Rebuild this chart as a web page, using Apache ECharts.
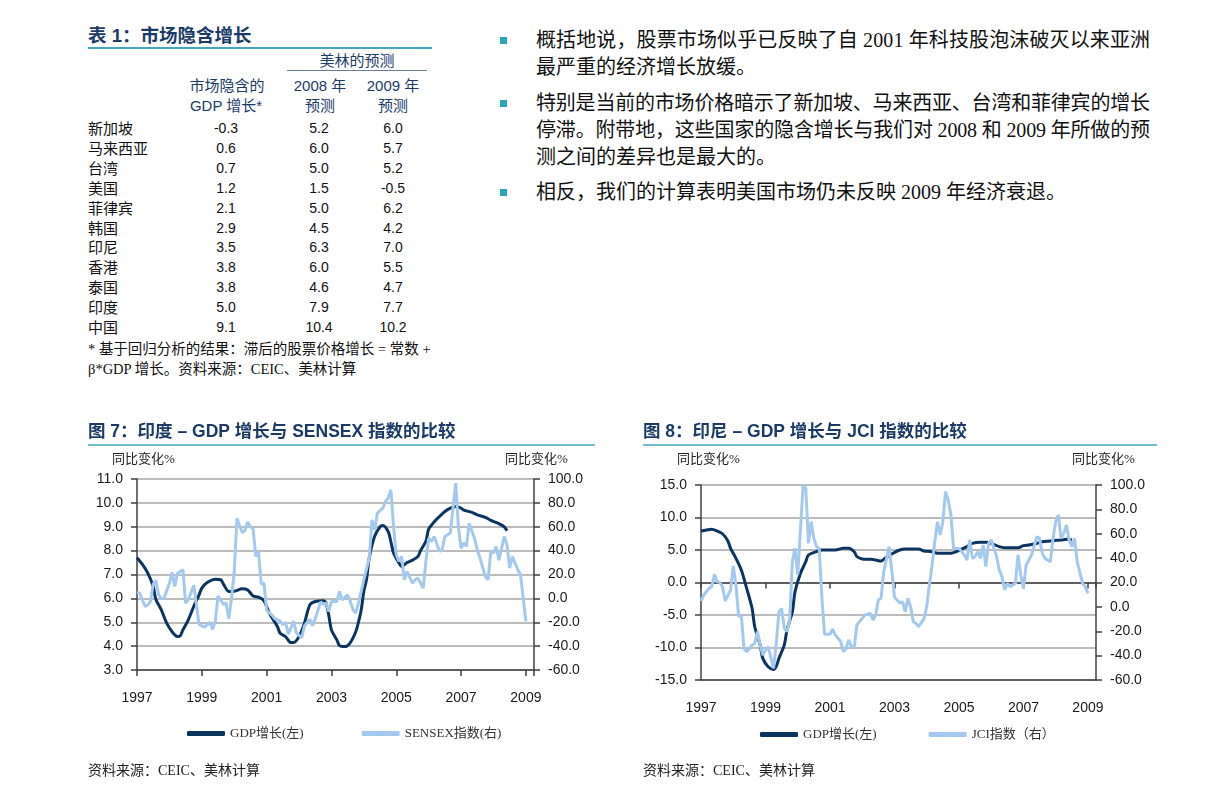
<!DOCTYPE html>
<html><head><meta charset="utf-8">
<script src="https://cdn.jsdelivr.net/npm/echarts@6/dist/echarts.min.js"></script>
<style>
html,body{margin:0;padding:0;background:#fff;}
body{width:1224px;height:799px;position:relative;overflow:hidden;font-family:"Liberation Sans","Noto Sans CJK SC",sans-serif;color:#111;}
.abs{position:absolute;white-space:nowrap;line-height:1.2;}
.bl{position:absolute;left:536px;font-family:"Liberation Serif","Noto Sans CJK SC",serif;font-size:20px;line-height:1.2;white-space:nowrap;color:#111;}
.sq{position:absolute;left:500px;width:7px;height:7px;background:#2ea2b6;}
</style></head><body>
<div id="chart" style="position:absolute;left:0;top:400px;width:1224px;height:399px"></div>
<script>
// ---------- Table 1 data ----------
const countries = ['新加坡','马来西亚','台湾','美国','菲律宾','韩国','印尼','香港','泰国','印度','中国'];
const impliedGrowth = [-0.3,0.6,0.7,1.2,2.1,2.9,3.5,3.8,3.8,5.0,9.1];
const forecast2008 = [5.2,6.0,5.0,1.5,5.0,4.5,6.3,6.0,4.6,7.9,10.4];
const forecast2009 = [6.0,5.7,5.2,-0.5,6.2,4.2,7.0,5.5,4.7,7.7,10.2];

// ---------- Chart data (x = months since Jan 1997) ----------
const yearLabels = ['1997','1999','2001','2003','2005','2007','2009'];

const indiaGdpMonth = [0,2,4,6,7,9,11,13,15,16,17,19,21,23,24,26,29,31,32,34,36,39,41,43,45,47,49,52,53,55,57,58,60,62,64,66,69,70,71,72,74,75,77,79,81,82,83,84,85,86,88,90,91,93,94,95,97,98,100,102,104,105,107,108,110,112,114,116,118,120,121,124,126,129,131,134,136,137];
const indiaGdp = [7.7,7.42,7.06,6.5,5.95,5.52,4.96,4.6,4.4,4.43,4.68,5.1,5.66,6.15,6.43,6.66,6.8,6.78,6.6,6.29,6.3,6.4,6.35,6.1,6.05,5.9,5.38,4.82,4.54,4.4,4.15,4.15,4.4,4.96,5.73,5.87,5.9,5.79,5.3,4.68,4.26,4.02,3.98,4.15,4.6,5.0,5.5,6.3,6.8,7.7,8.6,9.0,9.05,8.8,8.38,7.9,7.48,7.34,7.5,7.6,7.75,8.0,8.4,8.9,9.2,9.43,9.64,9.78,9.85,9.78,9.7,9.6,9.5,9.39,9.27,9.13,8.99,8.83];

const sensexMonth = [0,1,3,4,5,6,7,8,9,10,12,13,14,15,17,18,19,21,22,23,25,27,28,29,30,32,33,34,35,36,37,39,40,41,42,43,44,45,46,47,48,50,51,53,54,55,56,58,59,61,62,64,65,66,68,69,70,71,72,74,75,76,78,79,80,81,82,84,86,87,88,89,91,92,93,94,95,96,97,98,99,100,102,103,104,106,107,108,109,110,112,113,114,116,117,118,119,120,121,122,123,125,126,127,129,130,131,132,133,134,135,136,137,138,139,141,142,143,144];
const sensex = [5,4.5,-6.8,-5.5,-2.6,12,15,3,0,0,12.7,21.7,10,21,24,-4,-1.2,11,-5,-22,-24,-20,-26,-19,2,-5,-4,-17,0,22,67,55,57,64,60,58,35,39,12,13,-10,-14,-17,-19,-22,-20,-30,-19,-29,-33,-23,-17.5,-23,-17,-3,-5,-4,-11,-2.6,-2.6,5.8,-1.2,3,-2.6,-9.6,-12.4,-4,15.6,33.8,65.8,57.3,71.5,75.6,81.2,84,91,60,36.5,31,35,15.6,22.5,12.8,15.6,17,8.5,32,50.5,47.7,51.9,39.4,40.7,51.9,54.7,75.6,96.6,60,42,46.5,43.5,63,50,40.7,33.8,18.3,15.6,39.4,38,43.5,32,42,51.9,44.9,25.4,35.1,24,19.8,0.2,-19.4];

const indoGdpMonth = [0,2,4,6,8,10,11,13,15,17,19,20,22,23,25,27,28,29,31,32,34,35,37,39,40,43,45,48,50,53,55,57,58,60,63,65,67,69,71,74,76,79,81,83,86,88,91,93,95,97,99,101,104,106,108,111,113,116,118,120,122,125,127,130,132,134,136,138];
const indoGdp = [7.92,8.08,8.2,7.92,7.5,6.4,5.26,3.72,1.92,-0.9,-3.97,-6.8,-9.6,-11.67,-12.95,-13.4,-12.9,-11.67,-9.6,-7.3,-4.5,-1.4,1.4,3.21,4.23,4.74,5.0,5.0,5.0,5.26,5.26,4.74,4.0,3.62,3.56,3.46,3.31,3.9,4.4,5.0,5.15,5.15,5.15,4.85,4.74,4.49,4.49,4.49,4.74,5.15,5.51,6.03,6.18,6.18,6.03,5.51,5.36,5.36,5.36,5.67,5.77,6.03,6.28,6.38,6.49,6.54,6.64,6.54];

const jciMonth = [0,1,3,4,5,6,7,8,9,11,12,13,14,15,16,17,19,20,21,22,23,24,25,27,28,29,30,31,32,33,34,35,36,38,39,40,41,42,43,44,45,46,48,49,50,52,53,54,55,56,57,58,59,60,61,63,64,65,66,67,68,70,71,72,74,75,76,77,78,79,80,81,83,84,85,86,87,88,89,90,91,92,93,94,96,97,98,99,100,101,102,103,104,105,106,107,108,110,111,112,113,114,115,117,118,119,120,121,123,125,126,127,128,130,131,132,133,134,135,136,137,138,139,140,142,143,144];
const jci = [4.8,9.7,15.2,16.6,26.7,20.7,20.1,16.6,4.8,13.8,33.8,18,-8,-6.7,-34,-36.8,-31.3,-30,-20.3,-31.3,-39.5,-35.4,-32.7,-50.4,-30,-3.9,-1.2,-17.6,-20.3,-10.8,37.1,48,26.2,100,97.3,52.1,69.9,56.2,49.4,48,7,-22.5,-22.5,-18.2,-23.1,-28.5,-36.8,-34,-27.2,-32.7,-34,-14.9,-12.1,-9.4,-6.7,-5.3,-10.8,-6.7,5.6,7,28.9,49.4,30,8,2.9,4.3,-3.9,7,0.2,-12.1,-13.5,-16.2,-9.4,0.2,17.9,34.4,53.5,69.9,59,69.9,94.5,87.7,75.4,48,48,45.3,42.6,38.5,54.9,39.8,41.2,45.3,39.8,50.8,33,52.1,54.9,41.2,30.3,24.8,13.8,19.3,16.6,19.3,42.6,26.2,15.2,34.4,42.6,57.6,56.2,43.9,39.8,37.1,56.2,69.9,75.4,56.2,60.3,67.2,54.9,49.4,56.2,37.1,19.3,16.6,11.1];

// ---------- Top HTML part ----------
const NAVY = '#1b3a68';
function put(text, x, y, css, align) {
  const d = document.createElement('div');
  d.className = 'abs';
  d.textContent = text;
  d.style.left = x + 'px';
  d.style.top = y + 'px';
  d.style.transform = align === 'center' ? 'translate(-50%,-50%)' : (align === 'right' ? 'translate(-100%,-50%)' : 'translate(0,-50%)');
  Object.assign(d.style, css || {});
  document.body.appendChild(d);
  return d;
}
function hline(x1, x2, y, color, w) {
  const d = document.createElement('div');
  d.style.cssText = `position:absolute;left:${x1}px;top:${y}px;width:${x2 - x1}px;height:${w}px;background:${color};`;
  document.body.appendChild(d);
}
put('表 1：市场隐含增长', 88, 36, {fontSize:'18.5px', fontWeight:'bold', color:NAVY, fontFamily:'"Liberation Sans","Noto Sans CJK SC",sans-serif'});
hline(88, 432, 47, '#45a6bd', 1.5);
const hdrCss = {fontSize:'15px', color:NAVY};
put('美林的预测', 357, 61, hdrCss, 'center');
hline(287, 427, 70, '#6c7f99', 1);
put('市场隐含的', 227, 86, hdrCss, 'center');
put('GDP 增长*', 226, 106, hdrCss, 'center');
put('2008 年', 320, 86, hdrCss, 'center');
put('预测', 320, 106, hdrCss, 'center');
put('2009 年', 393, 86, hdrCss, 'center');
put('预测', 393, 106, hdrCss, 'center');
const rowCss = {fontSize:'15px', color:'#111', fontFamily:'"Noto Sans CJK SC",sans-serif'};
const numCss = {fontSize:'14px', color:'#111', fontFamily:'"Liberation Sans",sans-serif'};
countries.forEach((c, i) => {
  const y = 128.3 + i * 19.85;
  put(c, 88, y, rowCss);
  put(impliedGrowth[i].toFixed(1), 226, y, numCss, 'center');
  put(forecast2008[i].toFixed(1), 319, y, numCss, 'center');
  put(forecast2009[i].toFixed(1), 393, y, numCss, 'center');
});
const noteCss = {fontSize:'14.5px', color:'#111', fontFamily:'"Liberation Serif","Noto Sans CJK SC",serif'};
put('* 基于回归分析的结果：滞后的股票价格增长 = 常数 +', 88, 350, noteCss);
put('β*GDP 增长。资料来源：CEIC、美林计算', 88, 370, noteCss);

// bullets
function bullet(y) {
  const d = document.createElement('div');
  d.className = 'sq';
  d.style.top = (y - 3.5) + 'px';
  document.body.appendChild(d);
}
function bline(text, y, fitWidth) {
  const d = document.createElement('div');
  d.className = 'bl';
  d.textContent = text;
  d.style.top = (y - 12) + 'px';
  document.body.appendChild(d);
  if (fitWidth) {
    const w = d.getBoundingClientRect().width;
    const n = Array.from(text).length;
    d.style.letterSpacing = ((fitWidth - w) / (n - 1)) + 'px';
  }
}
bullet(40);
bline('概括地说，股票市场似乎已反映了自 2001 年科技股泡沫破灭以来亚洲', 40, 614);
bline('最严重的经济增长放缓。', 67, 0);
bullet(103);
bline('特别是当前的市场价格暗示了新加坡、马来西亚、台湾和菲律宾的增长', 103, 614);
bline('停滞。附带地，这些国家的隐含增长与我们对 2008 和 2009 年所做的预', 130, 614);
bline('测之间的差异也是最大的。', 157, 0);
bullet(192);
bline('相反，我们的计算表明美国市场仍未反映 2009 年经济衰退。', 192, 0);

// ---------- Charts ----------
const OY = 400;
const zip = (xs, ys) => xs.map((x, i) => [x, ys[i]]);
const AX = '#404040', GRID = '#a6a6a6', DARK = '#0c3461', LIGHT = '#a5c8ef';
const labelFont = {fontSize:14, color:'#1a1a1a', fontFamily:'Liberation Sans'};
const yearFmt = v => (v % 24 === 0 && v / 24 < yearLabels.length) ? yearLabels[v / 24] : '';

function xBottom(gi, ticks) {
  return {gridIndex:gi, type:'value', min:0, max:147, interval:24, position:'bottom',
    axisLine:{show:true, onZero:false, lineStyle:{color:AX, width:1.5}},
    axisTick:{show:ticks, length:6, lineStyle:{color:AX, width:1.5}},
    axisLabel:Object.assign({formatter:yearFmt, margin:21}, labelFont),
    splitLine:{show:false}};
}
function yAx(gi, pos, min, max, interval, split) {
  return {gridIndex:gi, type:'value', position:pos, min:min, max:max, interval:interval,
    axisLine:{show:true, onZero:false, lineStyle:{color:AX, width:1.5}},
    axisTick:{show:true, length:6, lineStyle:{color:AX, width:1.5}},
    axisLabel:Object.assign({formatter:v => v.toFixed(1), margin:14}, labelFont),
    splitLine:{show:split, lineStyle:{color:GRID, width:1.5}}};
}
const legendText = {fontSize:13, color:'#333', fontFamily:'Liberation Serif, Noto Sans CJK SC'};
function txt(text, x, y, size, extra) {
  return {type:'text', x:x, y:y - OY, silent:true,
    style:Object.assign({text:text, fontSize:size, fill:'#222', fontFamily:'Liberation Serif, Noto Sans CJK SC', align:'left', verticalAlign:'middle'}, extra || {})};
}
const option = {
  animation:false,
  grid:[
    {left:137, top:479 - OY, width:397, height:191},
    {left:701, top:485 - OY, width:395, height:195}
  ],
  xAxis:[
    xBottom(0, true),
    xBottom(1, false),
    {gridIndex:1, type:'value', min:0, max:147, interval:24, position:'top',
     axisLine:{show:true, onZero:true, onZeroAxisIndex:2, lineStyle:{color:AX, width:1.5}},
     axisTick:{show:true, inside:true, length:6, lineStyle:{color:AX, width:1.5}},
     axisLabel:{show:false}, splitLine:{show:false}}
  ],
  yAxis:[
    yAx(0, 'left', 3, 11, 1, true),
    yAx(0, 'right', -60, 100, 20, false),
    yAx(1, 'left', -15, 15, 5, true),
    yAx(1, 'right', -60, 100, 20, false)
  ],
  legend:[
    {data:['GDP增长(左)','SENSEX指数(右)'], left:182, top:730 - OY - 8, itemWidth:38, itemHeight:5, itemGap:58, icon:'roundRect', textStyle:legendText},
    {data:['GDP增长(左)','JCI指数（右）'], left:755, top:731 - OY - 8, itemWidth:38, itemHeight:5, itemGap:52, icon:'roundRect', textStyle:legendText}
  ],
  series:[
    {name:'GDP增长(左)', type:'line', xAxisIndex:0, yAxisIndex:0, data:zip(indiaGdpMonth, indiaGdp), symbol:'none', smooth:0.3, lineStyle:{color:DARK, width:3}, itemStyle:{color:DARK}, z:2},
    {name:'SENSEX指数(右)', type:'line', xAxisIndex:0, yAxisIndex:1, data:zip(sensexMonth, sensex), symbol:'none', lineStyle:{color:LIGHT, width:3}, itemStyle:{color:LIGHT}, z:3},
    {name:'GDP增长(左)', type:'line', xAxisIndex:1, yAxisIndex:2, data:zip(indoGdpMonth, indoGdp), symbol:'none', smooth:0.3, lineStyle:{color:DARK, width:3}, itemStyle:{color:DARK}, z:2},
    {name:'JCI指数（右）', type:'line', xAxisIndex:1, yAxisIndex:3, data:zip(jciMonth, jci), symbol:'none', lineStyle:{color:LIGHT, width:3}, itemStyle:{color:LIGHT}, z:3}
  ],
  graphic:[
    txt('图 7：印度 – GDP 增长与 SENSEX 指数的比较', 88, 432, 17.5, {fill:NAVY, fontWeight:'bold', fontFamily:'Liberation Sans, Noto Sans CJK SC'}),
    {type:'line', silent:true, shape:{x1:88, y1:445 - OY, x2:595, y2:445 - OY}, style:{stroke:'#45a6bd', lineWidth:1.5}},
    txt('图 8：印尼 – GDP 增长与 JCI 指数的比较', 643, 432, 17.5, {fill:NAVY, fontWeight:'bold', fontFamily:'Liberation Sans, Noto Sans CJK SC'}),
    {type:'line', silent:true, shape:{x1:643, y1:445 - OY, x2:1157, y2:445 - OY}, style:{stroke:'#45a6bd', lineWidth:1.5}},
    txt('同比变化%', 112, 460, 13),
    txt('同比变化%', 505, 460, 13),
    txt('同比变化%', 677, 460, 13),
    txt('同比变化%', 1072, 460, 13),
    txt('资料来源：CEIC、美林计算', 88, 771, 14),
    txt('资料来源：CEIC、美林计算', 643, 771, 14)
  ]
};
const chart = echarts.init(document.getElementById('chart'), null, {renderer:'canvas'});
chart.setOption(option);
</script>
</body></html>
